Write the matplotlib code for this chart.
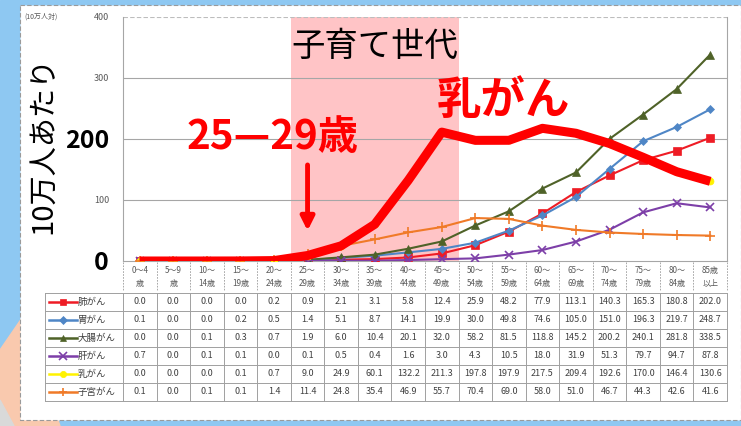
import matplotlib
matplotlib.use("Agg")
import matplotlib.pyplot as plt
from matplotlib.patches import Rectangle, Polygon
from matplotlib.lines import Line2D

plt.rcParams['font.family'] = ['Noto Sans CJK JP', 'DejaVu Sans']

categories = ["0〜4\n歳", "5〜9\n歳", "10〜\n14歳", "15〜\n19歳", "20〜\n24歳", "25〜\n29歳",
              "30〜\n34歳", "35〜\n39歳", "40〜\n44歳", "45〜\n49歳", "50〜\n54歳", "55〜\n59歳",
              "60〜\n64歳", "65〜\n69歳", "70〜\n74歳", "75〜\n79歳", "80〜\n84歳", "85歳\n以上"]

lung = [0.0, 0.0, 0.0, 0.0, 0.2, 0.9, 2.1, 3.1, 5.8, 12.4, 25.9, 48.2, 77.9, 113.1, 140.3, 165.3, 180.8, 202.0]
stomach = [0.1, 0.0, 0.0, 0.2, 0.5, 1.4, 5.1, 8.7, 14.1, 19.9, 30.0, 49.8, 74.6, 105.0, 151.0, 196.3, 219.7, 248.7]
colon = [0.0, 0.0, 0.1, 0.3, 0.7, 1.9, 6.0, 10.4, 20.1, 32.0, 58.2, 81.5, 118.8, 145.2, 200.2, 240.1, 281.8, 338.5]
liver = [0.7, 0.0, 0.1, 0.1, 0.0, 0.1, 0.5, 0.4, 1.6, 3.0, 4.3, 10.5, 18.0, 31.9, 51.3, 79.7, 94.7, 87.8]
breast = [0.0, 0.0, 0.0, 0.1, 0.7, 9.0, 24.9, 60.1, 132.2, 211.3, 197.8, 197.9, 217.5, 209.4, 192.6, 170.0, 146.4, 130.6]
uterus = [0.1, 0.0, 0.1, 0.1, 1.4, 11.4, 24.8, 35.4, 46.9, 55.7, 70.4, 69.0, 58.0, 51.0, 46.7, 44.3, 42.6, 41.6]

series_names = ["肺がん", "胃がん", "大腸がん", "肝がん", "乳がん", "子宮がん"]
series_values = [lung, stomach, colon, liver, breast, uterus]
series_colors = ['#EE1C25', '#4F86C6', '#4F6228', '#7D3FA8', '#FFF200', '#F07A28']
series_markers = ['s', 'D', '^', 'x', 'o', '+']
series_msize = [5.5, 4, 5.5, 6, 5, 7]

W, H = 741, 426
fig = plt.figure(figsize=(W / 100, H / 100), dpi=100)

# background
bg = fig.add_axes([0, 0, 1, 1], zorder=0)
bg.set_xlim(0, W); bg.set_ylim(H, 0); bg.axis('off')
bg.add_patch(Rectangle((0, 0), W, H, color='#8EC8F2'))
bg.add_patch(Polygon([(0, 350), (22, 318), (60, 426), (0, 426)], color='#F9C9AE'))
bg.add_patch(Polygon([(0, 400), (14, 426), (0, 426)], color='#D9D9D9'))
bg.add_patch(Rectangle((20, 5), W - 20, 415, facecolor='white', edgecolor='#9A9A9A',
                       lw=0.8, ls=(0, (4, 2))))

# main axes
L, R, T, B = 123, 727, 17, 261
ax = fig.add_axes([L / W, 1 - B / H, (R - L) / W, (B - T) / H], zorder=2)
ax.set_facecolor('white')
n = len(categories)
x = list(range(n))
ax.set_xlim(-0.5, n - 0.5)
ax.set_ylim(0, 400)
ax.axvspan(4.5, 9.5, color='#FFC4C6', lw=0, zorder=0)
for yv in [100, 200, 300]:
    ax.axhline(yv, color='#A6A6A6', lw=0.8, zorder=1)
ax.axhline(400, color='#BDBDBD', lw=0.8, ls=(0, (4, 2)), zorder=1)

for vals, c, m, ms in zip(series_values, series_colors, series_markers, series_msize):
    mew = 1.2 if m in ('x', '+') else 0.5
    ax.plot(x, vals, color=c, marker=m, ms=ms, lw=1.5, mew=mew, mec=c, zorder=3)

# hand-drawn style highlight of breast cancer
ax.plot(x, breast, color='#FF0000', lw=6.5, solid_joinstyle='round', solid_capstyle='butt', zorder=5)

ax.set_xticks([])
ax.set_yticks([0, 100, 200, 300, 400])
ax.set_yticklabels(["0", "100", "200", "300", "400"])
ax.tick_params(axis='y', length=0, pad=10)
for lab in ax.get_yticklabels():
    if lab.get_text() in ("0", "200"):
        lab.set_fontsize(18); lab.set_fontweight('bold'); lab.set_color('black')
    else:
        lab.set_fontsize(6.5); lab.set_color('#595959')
for s in ['left', 'right', 'bottom']:
    ax.spines[s].set_color('#A6A6A6'); ax.spines[s].set_linewidth(0.8)
ax.spines['top'].set_visible(False)

ax.text(7, 352, "子育て世代", fontsize=24, ha='center', va='center', color='black', zorder=6)
ax.text(3.95, 202, "25—29歳", fontsize=29, ha='center', va='center', color='#FF0000',
        fontweight='bold', zorder=6)
ax.text(10.85, 262, "乳がん", fontsize=32, ha='center', va='center', color='#FF0000',
        fontweight='bold', zorder=6)
ax.annotate("", xy=(5, 45), xytext=(5, 162),
            arrowprops=dict(arrowstyle='-|>,head_width=0.4,head_length=0.8',
                            color='#FF0000', lw=3.5), zorder=6)

# overlay for table and side texts
ov = fig.add_axes([0, 0, 1, 1], zorder=4)
ov.set_xlim(0, W); ov.set_ylim(H, 0); ov.axis('off')
ov.patch.set_alpha(0)

ov.text(43, 145, "10万人あたり", rotation=90, fontsize=21, ha='center', va='center', color='black')
ov.text(24, 17, "(10万人対)", fontsize=5, ha='left', va='center', color='#595959')

colw = (R - L) / n
# category label row
for i, lab in enumerate(categories):
    ov.text(L + (i + 0.5) * colw, 277, lab, fontsize=5.8, ha='center', va='center',
            color='#595959', linespacing=1.5)
for i in range(n + 1):
    ov.plot([L + i * colw] * 2, [262, 291], color='#9A9A9A', lw=0.6, ls=(0, (2, 1.5)))

# data rows
row_top = 293
rh = 18
tab_left = 45
nrows = len(series_names)
for r in range(nrows + 1):
    yy = row_top + r * rh
    ov.plot([tab_left, R], [yy, yy], color='#A0A0A0', lw=0.7)
ov.plot([tab_left, tab_left], [row_top, row_top + nrows * rh], color='#A0A0A0', lw=0.7)
for i in range(n + 1):
    ov.plot([L + i * colw] * 2, [row_top, row_top + nrows * rh], color='#A0A0A0', lw=0.7)

for r, (name, vals, c, m, ms) in enumerate(zip(series_names, series_values, series_colors,
                                               series_markers, series_msize)):
    yc = row_top + (r + 0.5) * rh
    ov.add_line(Line2D([49, 77], [yc, yc], color=c, lw=1.8))
    mew = 1.2 if m in ('x', '+') else 0.5
    ov.add_line(Line2D([63], [yc], color=c, marker=m, ms=ms * 0.9, mew=mew, mec=c))
    ov.text(78, yc, name, fontsize=6.8, ha='left', va='center', color='#404040')
    for i, v in enumerate(vals):
        ov.text(L + (i + 0.5) * colw, yc, f"{v:.1f}", fontsize=6.5, ha='center', va='center',
                color='#404040')

fig.savefig("out.png", dpi=100)
